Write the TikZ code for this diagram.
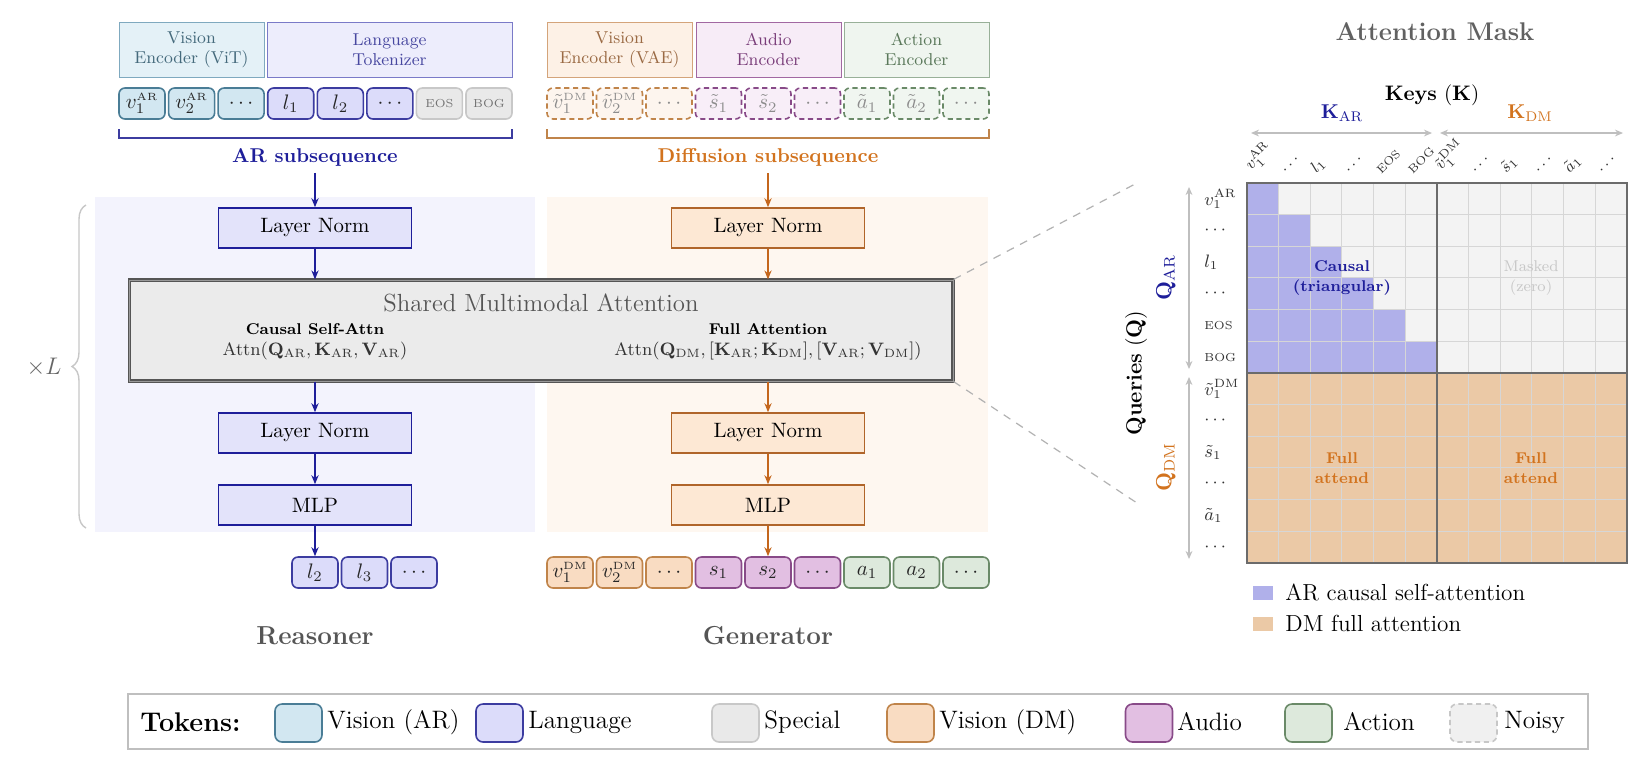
\RequirePackage{fix-cm}
\documentclass[tikz,border=0pt]{standalone}
\usetikzlibrary{arrows.meta,decorations.pathreplacing}
\definecolor{arblue}{HTML}{1E1E9A}
\definecolor{dmor}{HTML}{C4661C}
\definecolor{dmtxt}{HTML}{D2731E}
\definecolor{panelAR}{HTML}{F3F3FD}
\definecolor{panelDM}{HTML}{FEF7F0}
\definecolor{lnARf}{HTML}{E3E3FA}
\definecolor{lnDMf}{HTML}{FDE8D4}
\definecolor{lnDMd}{HTML}{B0652A}
\definecolor{visARf}{HTML}{D2E7F1}
\definecolor{visARd}{HTML}{4A7D96}
\definecolor{langf}{HTML}{DCDCFA}
\definecolor{langd}{HTML}{3C3CA0}
\definecolor{specf}{HTML}{E9E9E9}
\definecolor{specd}{HTML}{C8C8C8}
\definecolor{visDMf}{HTML}{F9DCC2}
\definecolor{visDMd}{HTML}{C0844A}
\definecolor{audf}{HTML}{E2BFE2}
\definecolor{audd}{HTML}{884A88}
\definecolor{actf}{HTML}{DDE9DC}
\definecolor{actd}{HTML}{6A8A68}
\definecolor{visDMn}{HTML}{FDF5EE}
\definecolor{audn}{HTML}{F8EEF8}
\definecolor{actn}{HTML}{F0F6F0}
\definecolor{purp}{HTML}{B0B0EA}
\definecolor{peach}{HTML}{EBC9A6}
\definecolor{cellgray}{HTML}{F3F3F3}
\definecolor{gridln}{HTML}{D6D6D6}
\definecolor{dgray}{HTML}{555555}
\definecolor{attnf}{HTML}{EBEBEB}
\definecolor{encViTf}{HTML}{E4F1F7}\definecolor{encViTd}{HTML}{7FA9BF}\definecolor{encViTt}{HTML}{456A7C}
\definecolor{encLangf}{HTML}{EDEDFC}\definecolor{encLangd}{HTML}{7A7AC8}\definecolor{encLangt}{HTML}{4848A0}
\definecolor{encVAEf}{HTML}{FDF1E6}\definecolor{encVAEd}{HTML}{D4A47A}\definecolor{encVAEt}{HTML}{9A6A44}
\definecolor{encAudf}{HTML}{F7ECF7}\definecolor{encAudd}{HTML}{A268A2}\definecolor{encAudt}{HTML}{7A3E7A}
\definecolor{encActf}{HTML}{EFF5EF}\definecolor{encActd}{HTML}{98B098}\definecolor{encActt}{HTML}{5A785A}
\newcommand\supAR{^{\scriptscriptstyle\mathrm{AR}}}
\newcommand\supDM{^{\scriptscriptstyle\mathrm{DM}}}
\tikzset{
  tok/.style={rounded corners=3pt, minimum width=23pt, minimum height=15.5pt, inner sep=0pt, line width=0.8pt, font=\fontsize{10.5pt}{12pt}\selectfont},
  tVA/.style={tok, fill=visARf, draw=visARd, text=black!85},
  tLa/.style={tok, fill=langf, draw=langd, text=black!85},
  tSp/.style={tok, fill=specf, draw=specd, text=black!55, font=\fontsize{5.8pt}{6pt}\selectfont},
  tVD/.style={tok, fill=visDMf, draw=visDMd, text=black!85},
  tAu/.style={tok, fill=audf, draw=audd, text=black!85},
  tAc/.style={tok, fill=actf, draw=actd, text=black!85},
  noisy/.style={dash pattern=on 2.6pt off 1.8pt, text=black!45},
  enc/.style={minimum width=72.5pt, minimum height=27.5pt, inner sep=0pt, line width=0.5pt, align=center, font=\fontsize{8.6pt}{9.8pt}\selectfont},
  blkAR/.style={minimum width=96.5pt, minimum height=20pt, inner sep=0pt, fill=lnARf, draw=arblue, line width=0.8pt, font=\fontsize{10.4pt}{12pt}\selectfont},
  blkDM/.style={minimum width=96.5pt, minimum height=20pt, inner sep=0pt, fill=lnDMf, draw=lnDMd, line width=0.8pt, font=\fontsize{10.4pt}{12pt}\selectfont},
  arrAR/.style={-{Stealth[length=4.5pt,width=3.6pt]}, draw=arblue, line width=0.7pt},
  arrDM/.style={-{Stealth[length=4.5pt,width=3.6pt]}, draw=dmor, line width=0.7pt},
  garr/.style={{Stealth[length=4pt,width=3.4pt]}-{Stealth[length=4pt,width=3.4pt]}, draw=black!25, line width=0.6pt},
  sw/.style={rounded corners=3.5pt, minimum width=23.5pt, minimum height=19pt, inner sep=0pt, line width=0.8pt},
  legtxt/.style={anchor=west, inner sep=0pt, font=\fontsize{12.6pt}{15pt}\selectfont},
}
\begin{document}
\begin{tikzpicture}[x=0.5pt,y=-0.5pt]
\useasboundingbox (0,0) rectangle (1648,768);
\fill[white] (0,0) rectangle (1648,768);

% panels
\fill[panelAR] (94.6,197) rectangle (535,532);
\fill[panelDM] (547,197) rectangle (988,532);

% brace and xL
\draw[decorate, decoration={brace, amplitude=7pt}, draw=black!22, line width=0.7pt] (86,528) -- (86,205);
\node[text=black!60, font=\fontsize{12pt}{14pt}\selectfont] (xL) at (44,367) {$\times L$};

% encoders
\node[enc, fill=encViTf, draw=encViTd, text=encViTt] (eViT) at (191.5,49.5) {Vision\\Encoder (ViT)};
\node[enc, minimum width=122.5pt, fill=encLangf, draw=encLangd, text=encLangt] (eLang) at (389.5,49.5) {Language\\Tokenizer};
\node[enc, fill=encVAEf, draw=encVAEd, text=encVAEt] (eVAE) at (619.5,49.5) {Vision\\Encoder (VAE)};
\node[enc, fill=encAudf, draw=encAudd, text=encAudt] (eAud) at (768.5,49.5) {Audio\\Encoder};
\node[enc, fill=encActf, draw=encActd, text=encActt] (eAct) at (916.5,49.5) {Action\\Encoder};

% AR input tokens
\node[tVA] (ta1) at (142,103.5) {$v_1\supAR$};
\node[tVA] (ta2) at (191.6,103.5) {$v_2\supAR$};
\node[tVA] (ta3) at (241.1,103.5) {$\cdots$};
\node[tLa] (ta4) at (290.7,103.5) {$l_1$};
\node[tLa] (ta5) at (340.3,103.5) {$l_2$};
\node[tLa] (ta6) at (389.9,103.5) {$\cdots$};
\node[tSp] (ta7) at (439.4,103.5) {EOS};
\node[tSp] (ta8) at (489,103.5) {BOG};

% DM input tokens (noisy)
\node[tVD, noisy, fill=visDMn] (td1) at (570,103.5) {$\tilde{v}_1\supDM$};
\node[tVD, noisy, fill=visDMn] (td2) at (619.5,103.5) {$\tilde{v}_2\supDM$};
\node[tVD, noisy, fill=visDMn] (td3) at (669,103.5) {$\cdots$};
\node[tAu, noisy, fill=audn] (td4) at (718.5,103.5) {$\tilde{s}_1$};
\node[tAu, noisy, fill=audn] (td5) at (768,103.5) {$\tilde{s}_2$};
\node[tAu, noisy, fill=audn] (td6) at (817.5,103.5) {$\cdots$};
\node[tAc, noisy, fill=actn] (td7) at (867,103.5) {$\tilde{a}_1$};
\node[tAc, noisy, fill=actn] (td8) at (916.5,103.5) {$\tilde{a}_2$};
\node[tAc, noisy, fill=actn] (td9) at (966,103.5) {$\cdots$};

% brackets
\draw[draw=langd, line width=0.8pt] (119,129) -- (119,138) -- (512,138) -- (512,129);
\draw[draw=visDMd, line width=0.8pt] (547,129) -- (547,138) -- (989,138) -- (989,129);
\node[text=arblue, font=\bfseries\fontsize{10pt}{12pt}\selectfont] (arlab) at (315,157) {AR subsequence};
\node[text=dmtxt, font=\bfseries\fontsize{10pt}{12pt}\selectfont] (dmlab) at (768,157) {Diffusion subsequence};

% blocks
\node[blkAR] (ln1a) at (315,228) {Layer Norm};
\node[blkAR] (ln2a) at (315,433) {Layer Norm};
\node[blkAR] (mlpa) at (315,505) {MLP};
\node[blkDM] (ln1d) at (768,228) {Layer Norm};
\node[blkDM] (ln2d) at (768,433) {Layer Norm};
\node[blkDM] (mlpd) at (768,505) {MLP};

% shared attention
\node[draw=dgray, line width=0.6pt, double=black!40, double distance=0.5pt, fill=attnf, minimum width=411.85pt, minimum height=50.5pt, inner sep=0pt] (attn) at (541.2,330.5) {};
\node[text=dgray, font=\fontsize{12.4pt}{14pt}\selectfont] (shtitle) at (541,303) {Shared Multimodal Attention};
\node[font=\bfseries\fontsize{7.8pt}{9pt}\selectfont] (csa) at (315,329) {Causal Self-Attn};
\node[text=black!80, font=\fontsize{9pt}{11pt}\selectfont] (csaeq) at (315,351) {$\mathrm{Attn}(\mathbf{Q}_{\mathrm{AR}},\mathbf{K}_{\mathrm{AR}},\mathbf{V}_{\mathrm{AR}})$};
\node[font=\bfseries\fontsize{7.8pt}{9pt}\selectfont] (fa) at (768,329) {Full Attention};
\node[text=black!80, font=\fontsize{9pt}{11pt}\selectfont] (faeq) at (768,351) {$\mathrm{Attn}(\mathbf{Q}_{\mathrm{DM}},[\mathbf{K}_{\mathrm{AR}};\mathbf{K}_{\mathrm{DM}}],[\mathbf{V}_{\mathrm{AR}};\mathbf{V}_{\mathrm{DM}}])$};

% output tokens
\node[tLa] (oa1) at (315,572.5) {$l_2$};
\node[tLa] (oa2) at (364.5,572.5) {$l_3$};
\node[tLa] (oa3) at (414,572.5) {$\cdots$};
\node[tVD] (od1) at (570,572.5) {$v_1\supDM$};
\node[tVD] (od2) at (619.5,572.5) {$v_2\supDM$};
\node[tVD] (od3) at (669,572.5) {$\cdots$};
\node[tAu] (od4) at (718.5,572.5) {$s_1$};
\node[tAu] (od5) at (768,572.5) {$s_2$};
\node[tAu] (od6) at (817.5,572.5) {$\cdots$};
\node[tAc] (od7) at (867,572.5) {$a_1$};
\node[tAc] (od8) at (916.5,572.5) {$a_2$};
\node[tAc] (od9) at (966,572.5) {$\cdots$};

% arrows
\draw[arrAR] (arlab.south) -- (ln1a.north);
\draw[arrAR] (ln1a.south) -- (ln1a.south |- attn.north);
\draw[arrAR] (ln1a.south |- attn.south) -- (ln2a.north);
\draw[arrAR] (ln2a.south) -- (mlpa.north);
\draw[arrAR] (mlpa.south) -- (oa1.north);
\draw[arrDM] (dmlab.south) -- (ln1d.north);
\draw[arrDM] (ln1d.south) -- (ln1d.south |- attn.north);
\draw[arrDM] (ln1d.south |- attn.south) -- (ln2d.north);
\draw[arrDM] (ln2d.south) -- (mlpd.north);
\draw[arrDM] (mlpd.south) -- (od5.north);

\node[text=dgray, font=\bfseries\fontsize{13pt}{15pt}\selectfont] (reas) at (315,636) {Reasoner};
\node[text=dgray, font=\bfseries\fontsize{13pt}{15pt}\selectfont] (gen) at (768,636) {Generator};

% zoom lines
\coordinate (dz1) at (1137,183);
\coordinate (dz2) at (1137,503);
\draw[draw=black!30, line width=0.6pt, dash pattern=on 4pt off 3.5pt] (attn.north east) -- (dz1);
\draw[draw=black!30, line width=0.6pt, dash pattern=on 4pt off 3.5pt] (attn.south east) -- (dz2);

% attention mask
\def\mgx{1247}\def\mgy{183}\def\mcs{31.65}
\node[text=black!62, font=\bfseries\fontsize{12.8pt}{15pt}\selectfont] (amtitle) at (1435,32) {Attention Mask};
\node[font=\fontsize{10.5pt}{12pt}\selectfont] (keys) at (1432,95) {\textbf{Keys} $(\mathbf{K})$};
\node[text=arblue, font=\fontsize{10pt}{12pt}\selectfont] (kar) at (1342,113) {$\mathbf{K}_{\mathrm{AR}}$};
\node[text=dmtxt, font=\fontsize{10pt}{12pt}\selectfont] (kdm) at (1530,113) {$\mathbf{K}_{\mathrm{DM}}$};
\coordinate (ka1) at (1251,133); \coordinate (ka2) at (1432,133);
\coordinate (kd1) at (1440,133); \coordinate (kd2) at (1623,133);
\draw[garr] (ka1) -- (ka2);
\draw[garr] (kd1) -- (kd2);

\fill[cellgray] (\mgx,\mgy) rectangle ({\mgx+12*\mcs},{\mgy+6*\mcs});
\fill[peach] (\mgx,{\mgy+6*\mcs}) rectangle ({\mgx+12*\mcs},{\mgy+12*\mcs});
\foreach \ri in {0,...,5} {
  \fill[purp] (\mgx,{\mgy+\ri*\mcs}) rectangle ({\mgx+(\ri+1)*\mcs},{\mgy+(\ri+1)*\mcs});
}
\foreach \ii in {1,...,11} {
  \draw[draw=gridln, line width=0.5pt] ({\mgx+\ii*\mcs},\mgy) -- ({\mgx+\ii*\mcs},{\mgy+12*\mcs});
  \draw[draw=gridln, line width=0.5pt] (\mgx,{\mgy+\ii*\mcs}) -- ({\mgx+12*\mcs},{\mgy+\ii*\mcs});
}
\draw[draw=black!58, line width=1.1pt] (\mgx,\mgy) rectangle ({\mgx+12*\mcs},{\mgy+12*\mcs});
\draw[draw=black!58, line width=1.1pt] ({\mgx+6*\mcs},\mgy) -- ({\mgx+6*\mcs},{\mgy+12*\mcs});
\draw[draw=black!58, line width=1.1pt] (\mgx,{\mgy+6*\mcs}) -- ({\mgx+12*\mcs},{\mgy+6*\mcs});

\node[text=arblue, align=center, font=\bfseries\fontsize{7.8pt}{10pt}\selectfont] (causal) at (1342,278) {Causal\\(triangular)};
\node[text=black!22, align=center, font=\fontsize{7.8pt}{10pt}\selectfont] (masked) at (1531,278) {Masked\\(zero)};
\node[text=dmtxt, align=center, font=\bfseries\fontsize{7.8pt}{10pt}\selectfont] (full1) at (1342,468) {Full\\attend};
\node[text=dmtxt, align=center, font=\bfseries\fontsize{7.8pt}{10pt}\selectfont] (full2) at (1531,468) {Full\\attend};

\foreach \lab [count=\ci from 0] in {{$v_1^{\mathrm{AR}}$},{$\cdots$},{$l_1$},{$\cdots$},{\fontsize{5.8pt}{6pt}\selectfont EOS},{\fontsize{5.8pt}{6pt}\selectfont BOG},{$\tilde v_1^{\mathrm{DM}}$},{$\cdots$},{$\tilde s_1$},{$\cdots$},{$\tilde a_1$},{$\cdots$}} {
  \node[rotate=45, anchor=south west, inner sep=1pt, text=black!80, font=\fontsize{8pt}{9pt}\selectfont] (cl\ci) at ({\mgx+(\ci+0.5)*\mcs-8},178) {\lab};
  \node[anchor=west, inner sep=0pt, text=black!80, font=\fontsize{9pt}{10pt}\selectfont] (rl\ci) at (1204,{\mgy+(\ci+0.5)*\mcs}) {\lab};
}
\coordinate (qa1) at (1189,187); \coordinate (qa2) at (1189,369);
\coordinate (qd1) at (1189,377); \coordinate (qd2) at (1189,559);
\draw[garr] (qa1) -- (qa2);
\draw[garr] (qd1) -- (qd2);
\node[rotate=90, inner sep=0.5pt, text=arblue, font=\fontsize{11pt}{12pt}\selectfont] (qar) at (1166,278) {$\mathbf{Q}_{\mathrm{AR}}$};
\node[rotate=90, inner sep=0.5pt, text=dmtxt, font=\fontsize{11pt}{12pt}\selectfont] (qdm) at (1166,467) {$\mathbf{Q}_{\mathrm{DM}}$};
\node[rotate=90, inner sep=0.5pt, font=\fontsize{11pt}{12pt}\selectfont] (queries) at (1136,373) {\textbf{Queries} $(\mathbf{Q})$};

% mask legend
\node[fill=purp, minimum width=10pt, minimum height=7pt, inner sep=0pt] (ml1) at (1263,592.5) {};
\node[anchor=west, inner sep=0pt, font=\fontsize{11.6pt}{13pt}\selectfont] (ml1t) at (1285,592.5) {AR causal self-attention};
\node[fill=peach, minimum width=10pt, minimum height=7pt, inner sep=0pt] (ml2) at (1263,623.5) {};
\node[anchor=west, inner sep=0pt, font=\fontsize{11.6pt}{13pt}\selectfont] (ml2t) at (1285,623.5) {DM full attention};

% bottom legend
\node[draw=black!25, line width=0.9pt, fill=white, minimum width=730pt, minimum height=27.5pt, inner sep=0pt] (leg) at (858,721.5) {};
\node[legtxt, font=\bfseries\fontsize{13.5pt}{16pt}\selectfont] (legT) at (140,722) {Tokens:};
\node[sw, fill=visARf, draw=visARd] (s1) at (298.5,723) {};
\node[legtxt] (s1t) at (327,722) {Vision (AR)};
\node[sw, fill=langf, draw=langd] (s2) at (499.5,723) {};
\node[legtxt] (s2t) at (528,722) {Language};
\node[sw, fill=specf, draw=specd] (s3) at (735.5,723) {};
\node[legtxt] (s3t) at (764,722) {Special};
\node[sw, fill=visDMf, draw=visDMd] (s4) at (910.5,723) {};
\node[legtxt] (s4t) at (939,722) {Vision (DM)};
\node[sw, fill=audf, draw=audd] (s5) at (1149,723) {};
\node[legtxt] (s5t) at (1177,722) {Audio};
\node[sw, fill=actf, draw=actd] (s6) at (1308.5,723) {};
\node[legtxt] (s6t) at (1343,722) {Action};
\node[sw, fill=black!6, draw=black!22, dash pattern=on 2.6pt off 1.8pt] (s7) at (1473.5,723) {};
\node[legtxt] (s7t) at (1504,722) {Noisy};
\end{tikzpicture}
\end{document}
